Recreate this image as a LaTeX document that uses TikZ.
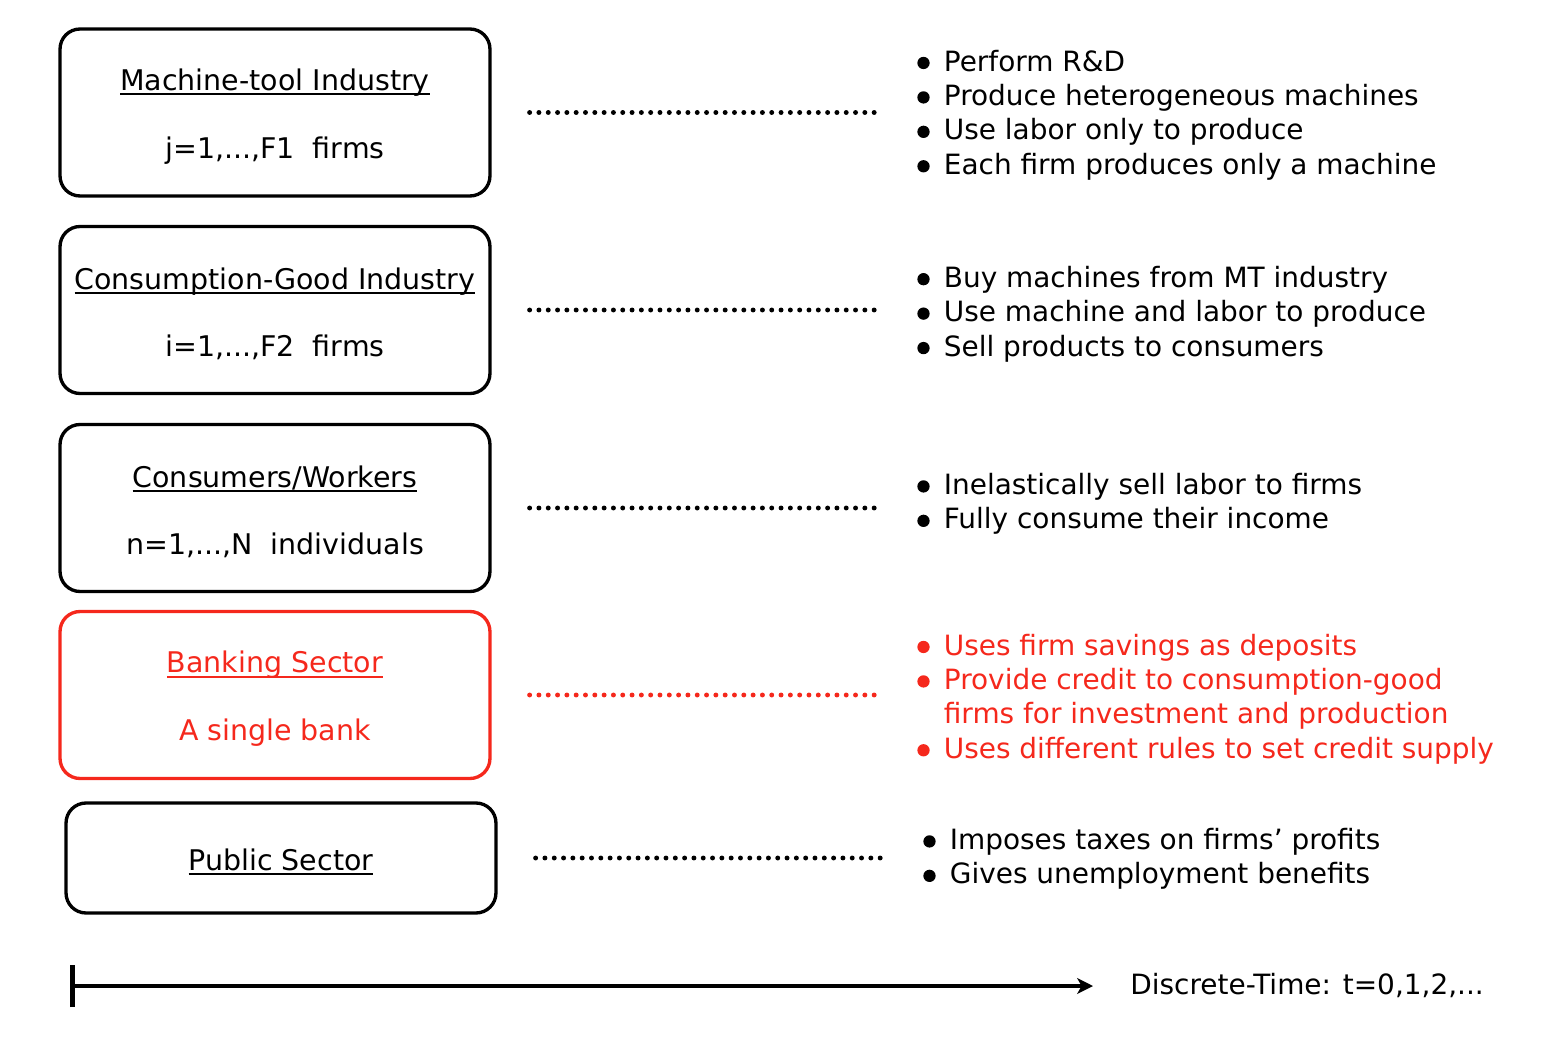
\documentclass[tikz,border=0pt]{standalone}
\usepackage{fontspec}
\setmainfont{DejaVu Sans}
\usetikzlibrary{arrows.meta}
\definecolor{bankred}{RGB}{245,40,28}
\newcommand{\ulbox}[1]{{\setbox0\hbox{#1}\rlap{\rule[-2.7pt]{\wd0}{1pt}}\box0}}
\newcommand{\bul}{\raisebox{1.1pt}{\tikz\fill (0,0) circle (3.5pt);}\hspace{8.1pt}}
\newcommand{\titlestrut}{\rule{0pt}{16.7pt}}

\tikzset{
  sector/.style={draw, line width=1.9pt, rounded corners=0.4cm, minimum width=8.6cm,
    minimum height=3.34cm, align=center, font=\fontsize{16.2}{38.6}\selectfont},
  duties/.style={anchor=west, align=left, inner sep=0pt, font=\fontsize{15.9}{19.6}\selectfont},
  dotline/.style={line width=2.8pt, line cap=round, dash pattern=on 0pt off 5.3pt},
  timeline/.style={line width=2.3pt, {Bar[width=24pt,line width=3.1pt]}-{Stealth[length=9pt,width=9pt,inset=2.5pt]}}
}

\begin{document}
\begin{tikzpicture}[x=0.02cm, y=-0.02cm]
    \useasboundingbox (0,0) rectangle (1541,1040);

    % sectors
    \node[sector] (mt) at (275,112.5) {\titlestrut\ulbox{Machine-tool Industry}\\ j=1,...,F1~~firms};
    \node[sector] (cg) at (275,310) {\titlestrut\ulbox{Consumption-Good Industry}\\ i=1,...,F2~~firms};
    \node[sector] (cw) at (275,508) {\titlestrut\ulbox{Consumers/Workers}\\ n=1,...,N~~individuals};
    \node[sector, draw=bankred, text=bankred] (bank) at (275,695) {\titlestrut\ulbox{Banking Sector}\\ A single bank};
    \node[sector, minimum height=2.2cm] (pub) at (281,858) {\titlestrut\ulbox{Public Sector}};

    % what each sector does
    \node[duties] (mtlist) at (917,115) {\bul Perform R\&D\\ \bul Produce heterogeneous machines\\
        \bul Use labor only to produce\\ \bul Each firm produces only a machine};
    \node[duties] (cglist) at (917,314) {\bul Buy machines from MT industry\\
        \bul Use machine and labor to produce\\ \bul Sell products to consumers};
    \node[duties] (cwlist) at (917,504) {\bul Inelastically sell labor to firms\\ \bul Fully consume their income};
    \node[duties, text=bankred] (banklist) at (917,699) {\bul Uses firm savings as deposits\\
        \bul Provide credit to consumption-good\\ \hspace{15.1pt}firms for investment and production\\
        \bul Uses different rules to set credit supply};
    \node[duties] (publist) at (923,859) {\bul Imposes taxes on firms’ profits\\ \bul Gives unemployment benefits};

    % dotted links
    \draw[dotline] ([xshift=0.76cm]mt.east) -- ([xshift=-0.78cm]mtlist.west |- mt.east);
    \draw[dotline] ([xshift=0.76cm]cg.east) -- ([xshift=-0.78cm]cglist.west |- cg.east);
    \draw[dotline] ([xshift=0.76cm]cw.east) -- ([xshift=-0.78cm]cwlist.west |- cw.east);
    \draw[dotline, bankred] ([xshift=0.76cm]bank.east) -- ([xshift=-0.78cm]banklist.west |- bank.east);
    \draw[dotline] ([xshift=0.76cm]pub.east) -- ([xshift=-0.78cm]publist.west |- pub.east);

    % time axis
    \coordinate (t0) at (70,986);
    \coordinate (t1) at (1093,986);
    \draw[timeline] (t0) -- (t1);
    \node[anchor=west, inner sep=0pt, font=\fontsize{15.9}{19.6}\selectfont] (tlabel) at (1130,986)
        {Discrete-Time: t=0,1,2,...};
\end{tikzpicture}
\end{document}
